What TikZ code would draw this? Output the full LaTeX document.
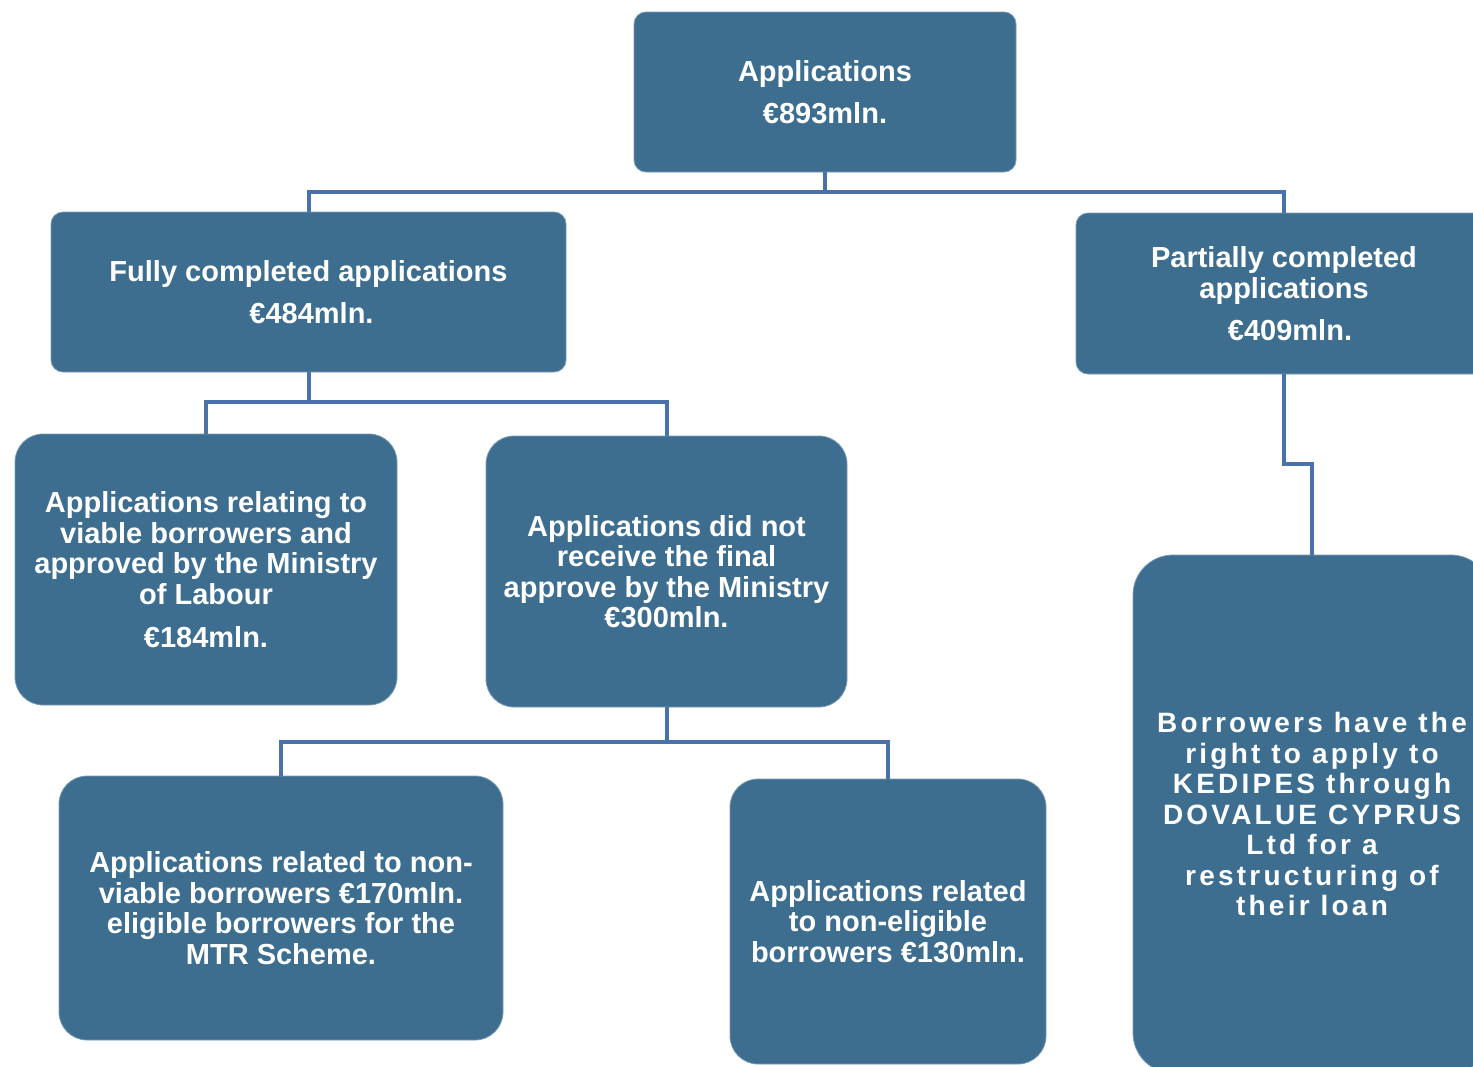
\documentclass[tikz,border=0pt]{standalone}
\usepackage{fontspec}
\setmainfont{Liberation Sans}
\definecolor{boxc}{HTML}{3D6E8F}
\definecolor{linec}{HTML}{4A72AA}
\definecolor{edgec}{HTML}{7A9AB5}
\begin{document}
\begin{tikzpicture}[x=1pt,y=-1pt,
  box/.style={draw=edgec, line width=0.8pt, fill=boxc, text=white,
    font=\fontsize{29}{30.5}\selectfont\bfseries, align=center, inner sep=0pt},
  conn/.style={draw=linec, line width=4pt}]
\useasboundingbox (0,0) rectangle (1473,1066);
\clip (0,0) rectangle (1473,1066);
\node[box, rounded corners=12pt, minimum width=382pt, minimum height=160pt] (top) at (825,92)
  {Applications\\[11.5pt]€893mln.};
\node[box, rounded corners=12pt, minimum width=515pt, minimum height=160pt] (full) at (308.5,292)
  {Fully completed applications\\[11.5pt]\hspace*{6pt}€484mln.};
\node[box, rounded corners=12pt, minimum width=416pt, minimum height=161pt] (part) at (1284,293.5)
  {Partially completed\\applications\\[11.5pt]\hspace*{12pt}€409mln.};
\node[box, rounded corners=28pt, minimum width=382pt, minimum height=271pt] (viab) at (206,569.5)
  {Applications relating to\\viable borrowers and\\approved by the Ministry\\of Labour\\[12.5pt]€184mln.};
\node[box, rounded corners=28pt, minimum width=361pt, minimum height=271pt] (dnot) at (666.5,571.5)
  {Applications did not\\receive the final\\approve by the Ministry\\€300mln.};
\node[box, rounded corners=28pt, minimum width=444pt, minimum height=264pt] (nonv) at (281,908)
  {Applications related to non-\\viable borrowers €170mln.\\eligible borrowers for the\\MTR Scheme.};
\node[box, rounded corners=28pt, minimum width=316pt, minimum height=285pt] (nonel) at (888,921.5)
  {Applications related\\to non-eligible\\borrowers €130mln.};
\node[box, rounded corners=40pt, minimum width=358pt, minimum height=518pt,
  font=\fontsize{28}{30.5}\selectfont\bfseries\addfontfeature{LetterSpace=11.5}] (borr) at (1312,814)
  {Borrowers have the\\right to apply to\\KEDIPES through\\DOVALUE CYPRUS\\Ltd for a\\restructuring of\\their loan};
\draw[conn] (top.south) -- ++(0,20) coordinate (j1);
\draw[conn] (full.north) |- (j1) -| (part.north);
\draw[conn] (full.south) -- ++(0,30) coordinate (j2);
\draw[conn] (viab.north) |- (j2) -| (dnot.north);
\draw[conn] (dnot.south) -- ++(0,35) coordinate (j3);
\draw[conn] (nonv.north) |- (j3) -| (nonel.north);
\draw[conn] (part.south) -- ++(0,90) -| (borr.north);
\end{tikzpicture}
\end{document}
